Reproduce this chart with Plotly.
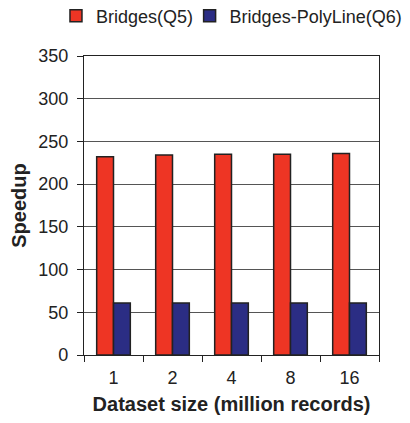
import plotly.graph_objects as go

categories = ["1", "2", "4", "8", "16"]
q5_values = [232, 234, 235, 235, 236]
q6_values = [61, 61, 61, 61, 61]
series_names = ["Bridges(Q5)", "Bridges-PolyLine(Q6)"]
y_ticks = [0, 50, 100, 150, 200, 250, 300, 350]

FONT = "Liberation Sans, Arial, sans-serif"

fig = go.Figure()
fig.add_trace(go.Bar(x=categories, y=q5_values, name=series_names[0], legend="legend",
                     marker=dict(color="#EE3524", line=dict(color="#222222", width=1.5))))
fig.add_trace(go.Bar(x=categories, y=q6_values, name=series_names[1], legend="legend2",
                     marker=dict(color="#2B2D84", line=dict(color="#222222", width=1.5))))

leg_common = dict(orientation="h", y=1.134, yanchor="middle", xanchor="left",
                  xref="paper", yref="paper", font=dict(size=18), itemwidth=30,
                  borderwidth=0, bgcolor="rgba(0,0,0,0)")

fig.update_layout(
    width=402, height=415,
    margin=dict(l=76, r=31, t=48, b=68, autoexpand=False),
    paper_bgcolor="white", plot_bgcolor="white",
    barmode="group", bargap=0.43, bargroupgap=0,
    font=dict(family=FONT, size=18, color="#222222"),
    legend=dict(x=-0.095, **leg_common),
    legend2=dict(x=0.358, **leg_common),
    showlegend=True,
)

fig.update_xaxes(
    type="category", tickson="boundaries", ticks="outside", ticklen=6,
    tickcolor="#222222", showline=True, linecolor="#222222", linewidth=1.2,
    mirror=True, showgrid=False, automargin=False, ticklabelstandoff=6,
    title=dict(text="<b>Dataset size (million records)</b>", font=dict(size=20), standoff=10),
)
fig.update_yaxes(
    range=[0, 350], tickvals=y_ticks, ticks="outside", ticklen=6,
    tickcolor="#222222", showline=True, linecolor="#222222", linewidth=1.2,
    mirror=True, showgrid=True, gridcolor="#555555", gridwidth=1,
    zeroline=False, automargin=False, ticklabelstandoff=5,
    title=dict(text="<b>Speedup</b>", font=dict(size=20), standoff=12),
)

fig.write_html("out.html")
